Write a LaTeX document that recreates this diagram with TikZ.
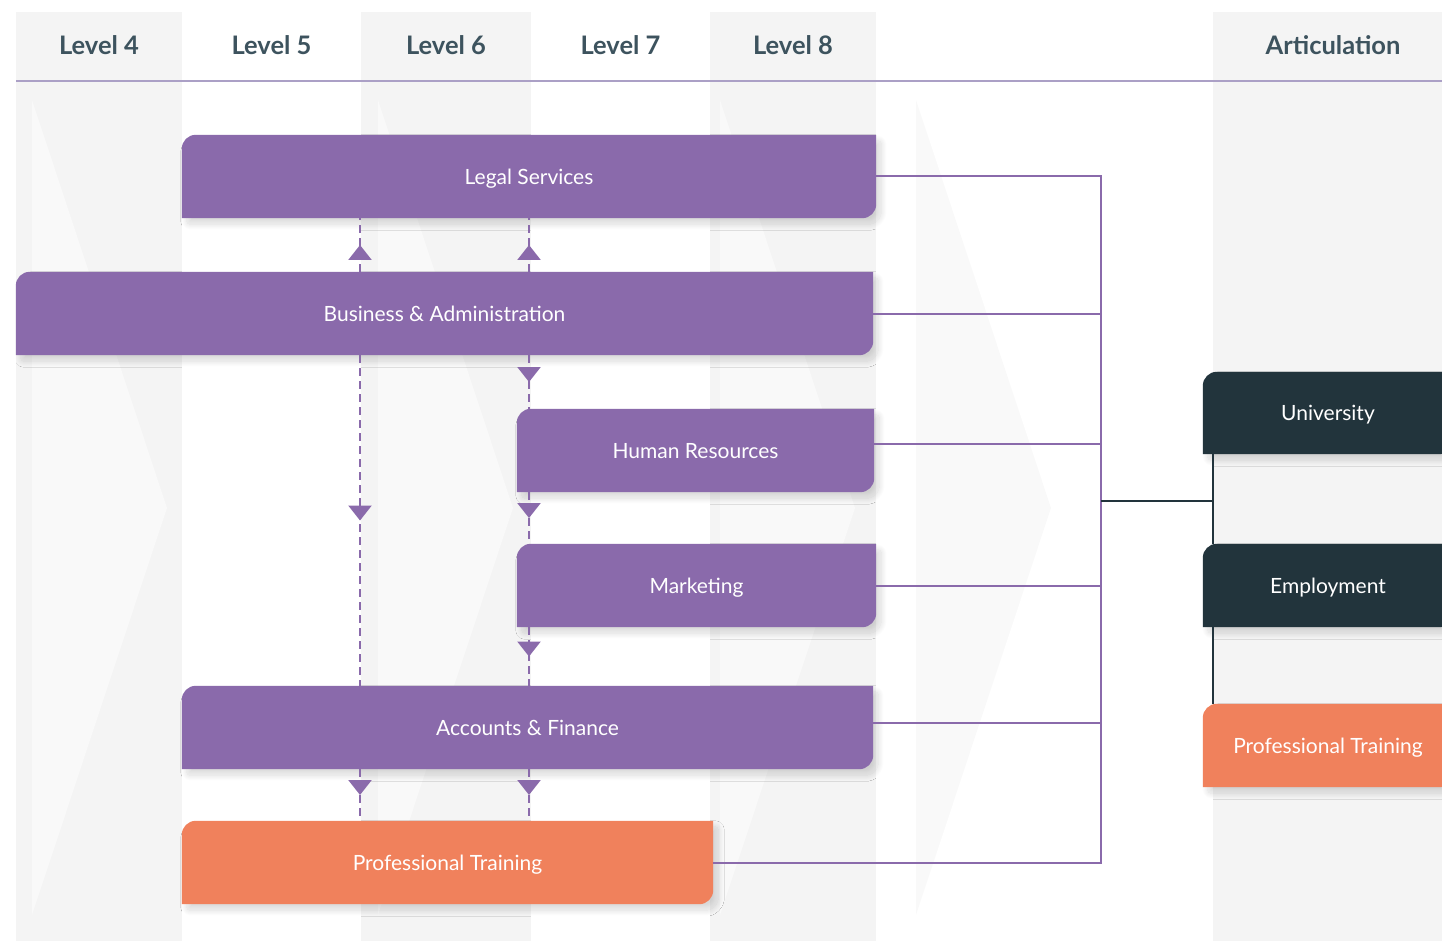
\documentclass[tikz,border=0pt]{standalone}
\usepackage{fontspec}
\setmainfont{Lato}
\usetikzlibrary{arrows.meta,decorations.markings,backgrounds,shadows.blur}
\definecolor{tabpurple}{HTML}{8A6AAB}
\definecolor{tabdark}{HTML}{22343C}
\definecolor{taborange}{HTML}{F0815C}
\definecolor{colgray}{HTML}{F4F4F4}
\definecolor{chevgray}{HTML}{F9F9F9}
\definecolor{headtext}{HTML}{3D535E}
\definecolor{rulepurple}{HTML}{ABA0C6}
% tab shape: round top-left and bottom-right corners only
\newcommand{\tabfill}[2]{%
  \fill[#2,tabshadow] (#1.south west) -- ([yshift=-14pt]#1.north west)
    arc[start angle=180,end angle=90,radius=14pt] -- (#1.north east)
    -- ([yshift=14pt]#1.south east) arc[start angle=0,end angle=-90,radius=14pt] -- cycle;}
\begin{document}
\begin{tikzpicture}[x=1pt,y=1pt,
  tab/.style={minimum height=83pt,inner sep=0pt,text depth=0pt,text=white,font=\fontsize{21}{25}\selectfont},
  head/.style={text=headtext,font=\fontsize{25.5}{30}\selectfont\bfseries},
  tabshadow/.style={blur shadow={shadow xshift=5pt,shadow yshift=-6pt,shadow blur radius=6pt,
    shadow blur steps=20,shadow blur extra rounding=3pt,shadow opacity=15}},
  link/.style={tabpurple,line width=2pt},
  outlink/.style={tabdark,line width=2.5pt},
  flow/.style={tabpurple,line width=2.5pt,dash pattern=on 8pt off 5pt,postaction=decorate,
    decoration={markings,mark=at position .5 with {\arrow{Triangle[width=23pt,length=15pt]}}}}]
\useasboundingbox (0,0) rectangle (1442,-941);
\begin{scope}[on background layer]
% level columns and chevrons
\foreach \xa/\xb in {16/182,361/531,710/876,1213/1460}
  \fill[colgray] (\xa,-12) rectangle (\xb,-941);
\foreach \xa in {32,378,720,916}
  \fill[chevgray] (\xa,-100) -- ++(135,-408) -- (\xa,-915) -- cycle;
\draw[rulepurple,line width=1.2pt] (16,-81) -- (1442,-81);
\end{scope}
% headings
\foreach \n/\xc in {4/99,5/271.5,6/446,7/620.5,8/793}
  \node[head] (lv\n) at (\xc,-45) {Level \n};
\node[head] (art) at (1333,-45) {Articulation};
% courses
\node[tab,minimum width=694pt] (legal) at (529,-176.5) {Legal Services};
\node[tab,minimum width=857pt] (ba) at (444.5,-313.5) {Business \& Administration};
\node[tab,minimum width=357pt] (hr) at (695.5,-450.5) {Human Resources};
\node[tab,minimum width=359pt] (mk) at (696.5,-585.5) {Marketing};
\node[tab,minimum width=691pt] (af) at (527.5,-727.5) {Accounts \& Finance};
\node[tab,minimum width=531pt] (ptb) at (447.5,-862.5) {Professional Training};
% articulation
\node[tab,minimum width=250pt,minimum height=82pt] (uni) at (1328,-413) {University};
\node[tab,minimum width=250pt] (emp) at (1328,-585.5) {Employment};
\node[tab,minimum width=250pt] (ptr) at (1328,-745.5) {Professional Training};
\begin{scope}[on background layer]
\foreach \n in {legal,ba,hr,mk,af} \tabfill{\n}{tabpurple};
\foreach \n in {uni,emp} \tabfill{\n}{tabdark};
\foreach \n in {ptb,ptr} \tabfill{\n}{taborange};
\end{scope}
% progression arrows
\coordinate (ca) at (360,0);
\coordinate (cb) at (529,0);
\draw[flow] (ba.north -| ca) -- (legal.south -| ca);
\draw[flow] (ba.north -| cb) -- (legal.south -| cb);
\draw[flow] (ba.south -| cb) -- (hr.north -| cb);
\draw[flow] (ba.south -| ca) -- (af.north -| ca);
\draw[flow] (hr.south -| cb) -- (mk.north -| cb);
\draw[flow] (mk.south -| cb) -- (af.north -| cb);
\draw[flow] (af.south -| ca) -- (ptb.north -| ca);
\draw[flow] (af.south -| cb) -- (ptb.north -| cb);
% links to articulation
\coordinate (bus) at (1101,-501);
\coordinate (jn) at ([xshift=10pt]uni.south west);
\draw[link] (legal.east) -| (bus);
\draw[link] (ptb.east) -| (bus);
\draw[link] (ba.east) -- (ba.east -| bus);
\draw[link] ([yshift=6.5pt]hr.east) -- ([yshift=6.5pt]hr.east -| bus);
\draw[link] (mk.east) -- (mk.east -| bus);
\draw[link] ([yshift=4.5pt]af.east) -- ([yshift=4.5pt]af.east -| bus);
\draw[outlink] (bus) -- (bus -| jn);
\draw[outlink] (jn) -- ([xshift=10pt]emp.north west);
\draw[outlink] ([xshift=10pt]emp.south west) -- ([xshift=10pt]ptr.north west);
\end{tikzpicture}
\end{document}
